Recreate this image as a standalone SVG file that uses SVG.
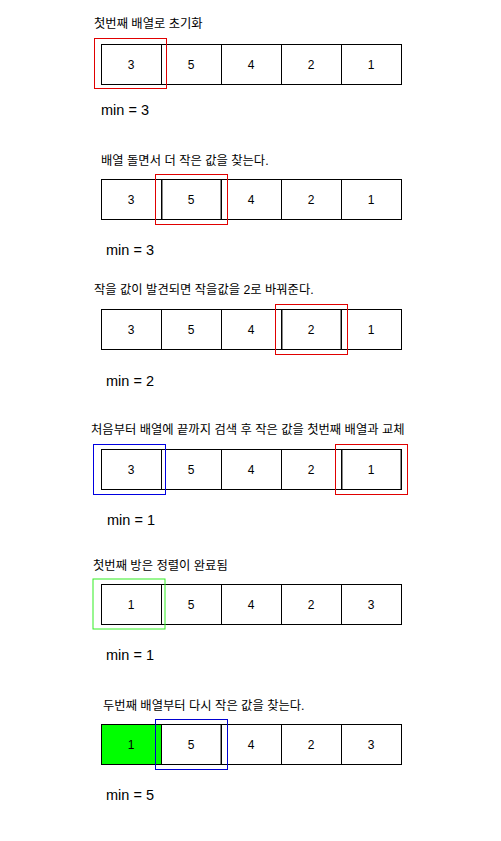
<svg xmlns="http://www.w3.org/2000/svg" width="501" height="841" viewBox="0 0 501 841">
<style>
.cell{fill:#fff;stroke:#000;stroke-width:1}
.num{font-family:"Liberation Sans",Arial,sans-serif;font-size:12px;fill:#000;text-anchor:middle}
.cap{font-family:"Liberation Sans","Noto Sans CJK KR",sans-serif;font-size:12.3px;fill:#000}
.min{font-family:"Liberation Sans",Arial,sans-serif;font-size:14.5px;fill:#000}
.hl{fill:none;stroke-width:1}
.gr{stroke:#888;stroke-width:1}
</style>
<rect width="501" height="841" fill="#fff"/>
<defs>
<g id="row">
<rect class="cell" x="101.5" y="0.5" width="60" height="40"/>
<rect class="cell" x="161.5" y="0.5" width="60" height="40"/>
<rect class="cell" x="221.5" y="0.5" width="60" height="40"/>
<rect class="cell" x="281.5" y="0.5" width="60" height="40"/>
<rect class="cell" x="341.5" y="0.5" width="60" height="40"/>
</g>
</defs>

<g id="step1">
<text class="cap" x="94" y="28">첫번째 배열로 초기화</text>
<use href="#row" y="44"/>
<text class="num" x="131" y="69">3</text><text class="num" x="191" y="69">5</text><text class="num" x="251" y="69">4</text><text class="num" x="311" y="69">2</text><text class="num" x="371" y="69">1</text>
<rect class="hl" stroke="#e00000" x="94.5" y="38.5" width="72" height="50"/>
<text class="min" x="101" y="115">min = 3</text>
</g>

<g id="step2">
<text class="cap" x="101" y="165">배열 돌면서 더 작은 값을 찾는다.</text>
<use href="#row" y="179"/>
<line class="gr" x1="162.5" y1="180" x2="162.5" y2="219"/><line class="gr" x1="220.5" y1="180" x2="220.5" y2="219"/>
<text class="num" x="131" y="204">3</text><text class="num" x="191" y="204">5</text><text class="num" x="251" y="204">4</text><text class="num" x="311" y="204">2</text><text class="num" x="371" y="204">1</text>
<rect class="hl" stroke="#e00000" x="155.5" y="174.5" width="72" height="50"/>
<text class="min" x="106" y="255">min = 3</text>
</g>

<g id="step3">
<text class="cap" x="94" y="294">작을 값이 발견되면 작을값을 2로 바꿔준다.</text>
<use href="#row" y="309"/>
<line class="gr" x1="282.5" y1="310" x2="282.5" y2="349"/><line class="gr" x1="340.5" y1="310" x2="340.5" y2="349"/>
<text class="num" x="131" y="334">3</text><text class="num" x="191" y="334">5</text><text class="num" x="251" y="334">4</text><text class="num" x="311" y="334">2</text><text class="num" x="371" y="334">1</text>
<rect class="hl" stroke="#e00000" x="275.5" y="304.5" width="72" height="50"/>
<text class="min" x="106" y="386">min = 2</text>
</g>

<g id="step4">
<text class="cap" x="91" y="434">처음부터 배열에 끝까지 검색 후 작은 값을 첫번째 배열과 교체</text>
<use href="#row" y="449"/>
<line class="gr" x1="342.5" y1="450" x2="342.5" y2="489"/><line class="gr" x1="400.5" y1="450" x2="400.5" y2="489"/>
<text class="num" x="131" y="474">3</text><text class="num" x="191" y="474">5</text><text class="num" x="251" y="474">4</text><text class="num" x="311" y="474">2</text><text class="num" x="371" y="474">1</text>
<rect class="hl" stroke="#0000e0" x="93.5" y="444.5" width="72" height="50"/>
<rect class="hl" stroke="#e00000" x="335.5" y="444.5" width="72" height="50"/>
<text class="min" x="107" y="525">min = 1</text>
</g>

<g id="step5">
<text class="cap" x="93" y="570">첫번째 방은 정렬이 완료됨</text>
<use href="#row" y="584"/>
<text class="num" x="131" y="609">1</text><text class="num" x="191" y="609">5</text><text class="num" x="251" y="609">4</text><text class="num" x="311" y="609">2</text><text class="num" x="371" y="609">3</text>
<rect class="hl" stroke="#33ee22" stroke-width="2" x="93" y="579" width="72" height="50"/>
<text class="min" x="106" y="660">min = 1</text>
</g>

<g id="step6">
<text class="cap" x="103" y="710">두번째 배열부터 다시 작은 값을 찾는다.</text>
<use href="#row" y="724"/>
<rect x="101.5" y="724.5" width="60" height="40" fill="#00ff00" stroke="#000"/>
<line class="gr" x1="220.5" y1="725" x2="220.5" y2="764"/>
<text class="num" x="131" y="749">1</text><text class="num" x="191" y="749">5</text><text class="num" x="251" y="749">4</text><text class="num" x="311" y="749">2</text><text class="num" x="371" y="749">3</text>
<rect class="hl" stroke="#0000d0" x="155.5" y="719.5" width="72" height="50"/>
<text class="min" x="106" y="800">min = 5</text>
</g>
</svg>
